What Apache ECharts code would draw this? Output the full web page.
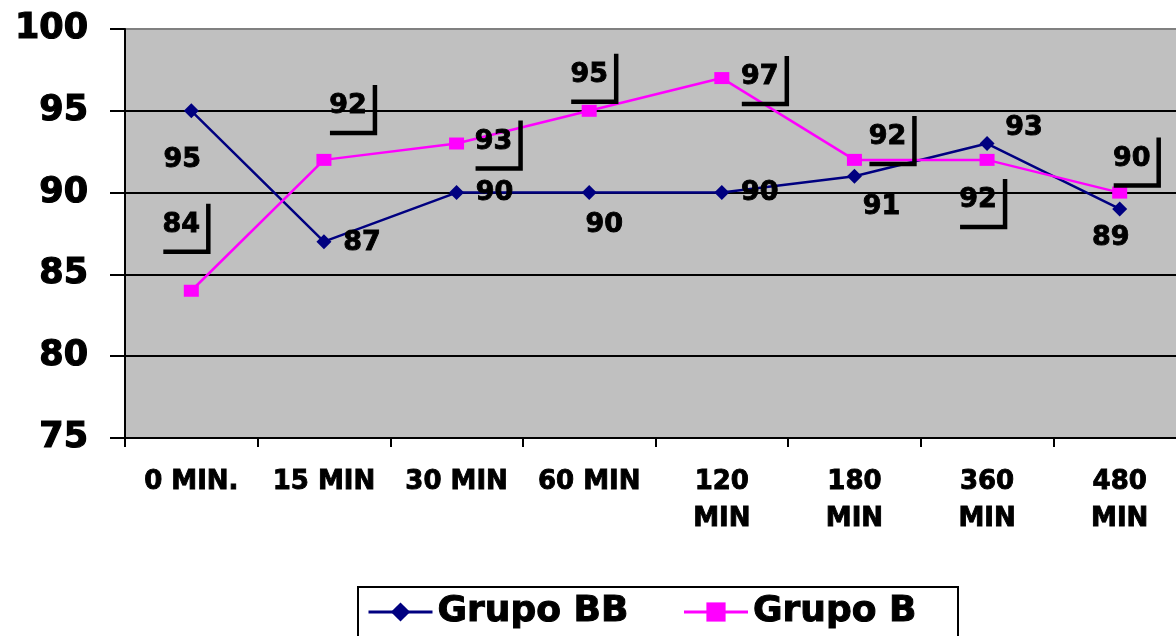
<!DOCTYPE html>
<html>
<head>
<meta charset="utf-8">
<script src="https://cdn.jsdelivr.net/npm/echarts@6/dist/echarts.min.js"></script>
<style>
  html, body { margin: 0; padding: 0; background: #ffffff; }
  #chart { width: 1176px; height: 636px; }
</style>
</head>
<body>
<div id="chart"></div>
<script>
// Time points after administration
const categories = ['0 MIN.', '15 MIN', '30 MIN', '60 MIN', '120\nMIN', '180\nMIN', '360\nMIN', '480\nMIN'];
// Series values
const grupoBB = [95, 87, 90, 90, 90, 91, 93, 89];
const grupoB = [84, 92, 93, 95, 97, 92, 92, 90];
// Value axis range
const yMin = 75, yMax = 100, yStep = 5;

// Label placement relative to each point (pixels)
const offsetsBB = [[-9, 49], [38, 1], [38, 0], [15, 32], [38, 0], [27, 31], [37, -16], [-9, 29]];
const offsetsB = [[-10, -66], [24, -54], [37, -2], [0, -36], [38, -1], [33, -23], [-9, 40], [12, -34]];

const FONT = '"DejaVu Sans", "Liberation Sans", Arial, sans-serif';
const NAVY = '#000080';
const MAGENTA = '#FF00FF';

// Value labels drawn at offsets from each point; Grupo B labels carry a corner bracket
function valueLabels(values, offsets, withBracket) {
  return {
    type: 'custom',
    coordinateSystem: 'cartesian2d',
    silent: true,
    z: 5,
    data: values.map((v, i) => [i, v]),
    renderItem(params, api) {
      const p = api.coord([api.value(0), api.value(1)]);
      const o = offsets[params.dataIndex];
      const cx = p[0] + o[0];
      const cy = p[1] + o[1];
      const children = [{
        type: 'text',
        style: {
          text: String(api.value(1)),
          x: cx, y: cy,
          fill: '#000',
          stroke: '#000',
          lineWidth: 0.9,
          font: 'bold 27px ' + FONT,
          align: 'center', verticalAlign: 'middle',
          textAlign: 'center', textVerticalAlign: 'middle'
        }
      }];
      if (withBracket) {
        children.push({
          type: 'polyline',
          shape: { points: [[cx + 27, cy - 21], [cx + 27, cy + 27], [cx - 18, cy + 27]] },
          style: { stroke: '#000', lineWidth: 4.5, fill: null, lineJoin: 'miter', lineCap: 'butt' }
        });
      }
      return { type: 'group', children };
    }
  };
}

const chart = echarts.init(document.getElementById('chart'), null, { renderer: 'canvas' });

chart.setOption({
  animation: false,
  backgroundColor: '#ffffff',
  grid: {
    left: 125, top: 29, right: -10, bottom: 198,
    containLabel: false,
    outerBoundsMode: 'none',
    show: true,
    backgroundColor: '#C0C0C0',
    borderColor: '#808080',
    borderWidth: 1
  },
  legend: {
    data: [
      { name: 'Grupo BB', textStyle: { width: 222 } },
      { name: 'Grupo B', textStyle: { width: 193 } }
    ],
    left: 358, top: 587,
    orient: 'horizontal',
    itemWidth: 64, itemHeight: 24, itemGap: 23,
    padding: [5, 12, 10, 9],
    borderColor: '#000', borderWidth: 2,
    backgroundColor: '#ffffff',
    lineStyle: { width: 3 },
    textStyle: {
      fontFamily: FONT, fontWeight: 'bold', fontSize: 36, lineHeight: 40, color: '#000',
      textBorderColor: '#000', textBorderWidth: 1
    }
  },
  xAxis: {
    type: 'category',
    data: categories,
    boundaryGap: true,
    axisLine: { show: true, lineStyle: { color: '#000', width: 2 } },
    axisTick: { show: true, length: 9, inside: false, alignWithLabel: false, lineStyle: { color: '#000', width: 2 } },
    axisLabel: {
      interval: 0, margin: 26,
      fontFamily: FONT, fontWeight: 'bold', fontSize: 26, lineHeight: 37, color: '#000',
      textBorderColor: '#000', textBorderWidth: 0.9
    },
    splitLine: { show: false }
  },
  yAxis: {
    type: 'value',
    min: yMin, max: yMax, interval: yStep,
    axisLine: { show: true, lineStyle: { color: '#000', width: 2 } },
    axisTick: { show: true, length: 15, inside: false, lineStyle: { color: '#000', width: 2 } },
    axisLabel: {
      margin: 37, fontFamily: FONT, fontWeight: 'bold', fontSize: 35, color: '#000',
      textBorderColor: '#000', textBorderWidth: 1.2
    },
    splitLine: {
      show: true,
      lineStyle: { color: ['#000', '#000', '#000', '#000', '#000', '#808080'], width: 2 }
    }
  },
  series: [
    {
      name: 'Grupo BB',
      type: 'line',
      data: grupoBB,
      symbol: 'diamond',
      symbolSize: 15,
      lineStyle: { color: NAVY, width: 2.5 },
      itemStyle: { color: NAVY },
      z: 3
    },
    {
      name: 'Grupo B',
      type: 'line',
      data: grupoB,
      symbol: 'rect',
      symbolSize: [15, 12],
      lineStyle: { color: MAGENTA, width: 2.5 },
      itemStyle: { color: MAGENTA },
      z: 3
    },
    valueLabels(grupoBB, offsetsBB, false),
    valueLabels(grupoB, offsetsB, true)
  ]
});
</script>
</body>
</html>
